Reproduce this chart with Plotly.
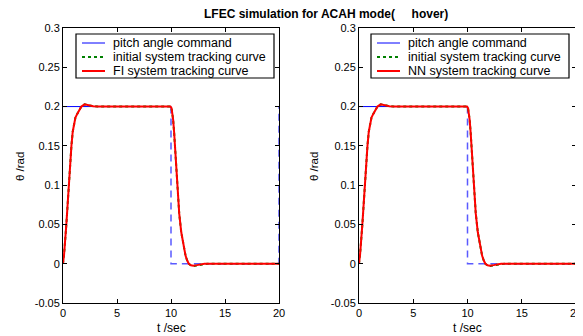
import plotly.graph_objects as go

# ---- data ----
t_cmd = [0, 10, 10, 20, 20]
y_cmd = [0.2, 0.2, 0, 0, 0.2]

t_fi = [0, 0.1, 0.31, 0.53, 0.78, 0.9, 1.02, 1.15, 1.33, 1.5, 1.7, 2.0, 2.4, 2.8, 3.2, 9.95, 10.05, 10.12, 10.2, 10.29, 10.38, 10.54, 10.76, 10.95, 11.15, 11.35, 11.5, 11.65, 11.85, 12.07, 12.4, 12.7, 13.1, 20]
y_fi = [0, 0.012, 0.05, 0.1, 0.15, 0.168, 0.179, 0.186, 0.191, 0.196, 0.2, 0.2028, 0.2015, 0.2005, 0.2, 0.2, 0.198, 0.193, 0.183, 0.167, 0.149, 0.107, 0.064, 0.04, 0.022, 0.01, 0.004, 0.0, -0.002, -0.0025, -0.0018, -0.0008, 0.0, 0.0]

t_init = [0, 0.1, 0.31, 0.53, 0.78, 0.9, 1.02, 1.15, 1.33, 1.5, 1.7, 2.0, 2.4, 2.8, 3.2, 9.95, 10.05, 10.12, 10.2, 10.29, 10.38, 10.54, 10.76, 10.95, 11.15, 11.35, 11.5, 11.65, 11.85, 12.1, 12.5, 12.9, 13.4, 20]
y_init = [0, 0.012, 0.05, 0.1, 0.15, 0.168, 0.179, 0.186, 0.191, 0.196, 0.2, 0.2028, 0.2015, 0.2005, 0.2, 0.2, 0.198, 0.193, 0.183, 0.167, 0.149, 0.107, 0.064, 0.04, 0.022, 0.01, 0.004, 0.0, -0.0025, -0.003, -0.002, -0.001, 0.0, 0.0]

t_nn = [0, 0.1, 0.31, 0.53, 0.78, 0.9, 1.02, 1.15, 1.33, 1.5, 1.7, 2.0, 2.4, 2.8, 3.2, 9.95, 10.05, 10.12, 10.2, 10.29, 10.38, 10.54, 10.76, 10.95, 11.15, 11.35, 11.5, 11.65, 11.85, 12.07, 12.4, 12.7, 13.1, 20]
y_nn = [0, 0.012, 0.05, 0.1, 0.15, 0.168, 0.179, 0.186, 0.191, 0.196, 0.2, 0.2028, 0.2015, 0.2005, 0.2, 0.2, 0.198, 0.193, 0.183, 0.167, 0.149, 0.107, 0.064, 0.04, 0.022, 0.01, 0.004, 0.0, -0.002, -0.0025, -0.0018, -0.0008, 0.0, 0.0]

x_ticks = [0, 5, 10, 15, 20]
y_ticks = [-0.05, 0, 0.05, 0.1, 0.15, 0.2, 0.25, 0.3]
y_ticktext = ["-0.05", "0", "0.05", "0.1", "0.15", "0.2", "0.25", "0.3"]

title = "LFEC simulation for ACAH mode(" + "\u00a0" * 5 + "hover)"
names_common = ["pitch angle command", "initial system tracking curve"]
names_sys = ["FI system tracking curve", "NN system tracking curve"]
x_title = "t /sec"
y_title = "θ /rad"

# page body has an 8px default margin: lay out in window pixels, shifted by it
OFF = 8
W, H = 583 - OFF, 336 - OFF
def px(x):
    return (x - OFF) / W
def py(y):
    return 1 - (y - OFF) / H

FONT = "Liberation Sans, Arial"
fig = go.Figure()

panels = [("x", "y", t_fi, y_fi, names_sys[0]),
          ("x2", "y2", t_nn, y_nn, names_sys[1])]
for xa, ya, tt, yy, nm in panels:
    fig.add_trace(go.Scatter(x=t_cmd[:2], y=y_cmd[:2], mode="lines", name=names_common[0],
                             line=dict(color="#0000ff", width=1), xaxis=xa, yaxis=ya, showlegend=False))
    fig.add_trace(go.Scatter(x=t_cmd[1:], y=y_cmd[1:], mode="lines", showlegend=False,
                             line=dict(color="#5a5aff", width=1.5, dash="7px,5px"), xaxis=xa, yaxis=ya))
    fig.add_trace(go.Scatter(x=t_init, y=y_init, mode="lines", name=names_common[1], showlegend=False,
                             line=dict(color="#008000", width=2, dash="dot"), xaxis=xa, yaxis=ya))
    fig.add_trace(go.Scatter(x=tt, y=yy, mode="lines", name=nm, showlegend=False,
                             line=dict(color="#ff0000", width=2), xaxis=xa, yaxis=ya))

ax_common = dict(showgrid=False, zeroline=False, showline=True, linecolor="black", linewidth=1,
                 mirror="ticks", ticks="inside", ticklen=4, tickcolor="black", automargin=False,
                 tickfont=dict(family=FONT, size=11, color="black"))

fig.update_layout(
    width=W, height=H, margin=dict(l=0, r=0, t=0, b=0, autoexpand=False),
    paper_bgcolor="white", plot_bgcolor="white", showlegend=False,
    font=dict(family=FONT, size=11, color="black"),
    xaxis=dict(domain=[px(63), px(279)], range=[0, 20], tickvals=x_ticks, anchor="y", **ax_common),
    yaxis=dict(domain=[py(303), py(28)], range=[-0.05, 0.3], tickvals=y_ticks, ticktext=y_ticktext,
               anchor="x", **ax_common),
    xaxis2=dict(domain=[px(359), px(576)], range=[0, 20], tickvals=x_ticks, anchor="y2", **ax_common),
    yaxis2=dict(domain=[py(303), py(28)], range=[-0.05, 0.3], tickvals=y_ticks, ticktext=y_ticktext,
                anchor="x2", **ax_common),
)

annotations = [dict(text="<b>" + title + "</b>", x=px(325.5), y=py(14), xref="paper", yref="paper",
                    showarrow=False, xanchor="center", yanchor="middle", font=dict(size=12, family=FONT))]
shapes = []

# axis titles and hand-built compact legend boxes
legend_specs = [
    dict(ytx=20, xtx=171, box=(76, 274), sys_name=names_sys[0]),
    dict(ytx=314, xtx=467, box=(371, 569), sys_name=names_sys[1]),
]
entry_styles = [dict(color="#0000ff", width=1, dash="solid"),
                dict(color="#008000", width=2, dash="dot"),
                dict(color="#ff0000", width=2, dash="solid")]
for spec in legend_specs:
    annotations.append(dict(text=y_title, x=px(spec["ytx"]), y=py(167), xref="paper", yref="paper",
                            showarrow=False, textangle=-90, xanchor="center", yanchor="middle",
                            font=dict(size=11.5, family=FONT)))
    annotations.append(dict(text=x_title, x=px(spec["xtx"]), y=py(328), xref="paper", yref="paper",
                            showarrow=False, xanchor="center", yanchor="middle",
                            font=dict(size=12, family=FONT)))
    bx0, bx1 = spec["box"]
    shapes.append(dict(type="rect", xref="paper", yref="paper", x0=px(bx0), x1=px(bx1),
                       y0=py(78), y1=py(34), line=dict(color="black", width=1.2),
                       fillcolor="white", layer="above"))
    labels = [names_common[0], names_common[1], spec["sys_name"]]
    for i, (lab, st) in enumerate(zip(labels, entry_styles)):
        yy = py(43 + 14 * i)
        shapes.append(dict(type="line", xref="paper", yref="paper", x0=px(bx0 + 6), x1=px(bx0 + 29),
                           y0=yy, y1=yy, line=st, layer="above"))
        annotations.append(dict(text=lab, x=px(bx0 + 35), y=yy, xref="paper", yref="paper",
                                showarrow=False, xanchor="left", yanchor="middle",
                                font=dict(size=12.5, family=FONT)))

fig.update_layout(annotations=annotations, shapes=shapes)
fig.write_html("out.html")
